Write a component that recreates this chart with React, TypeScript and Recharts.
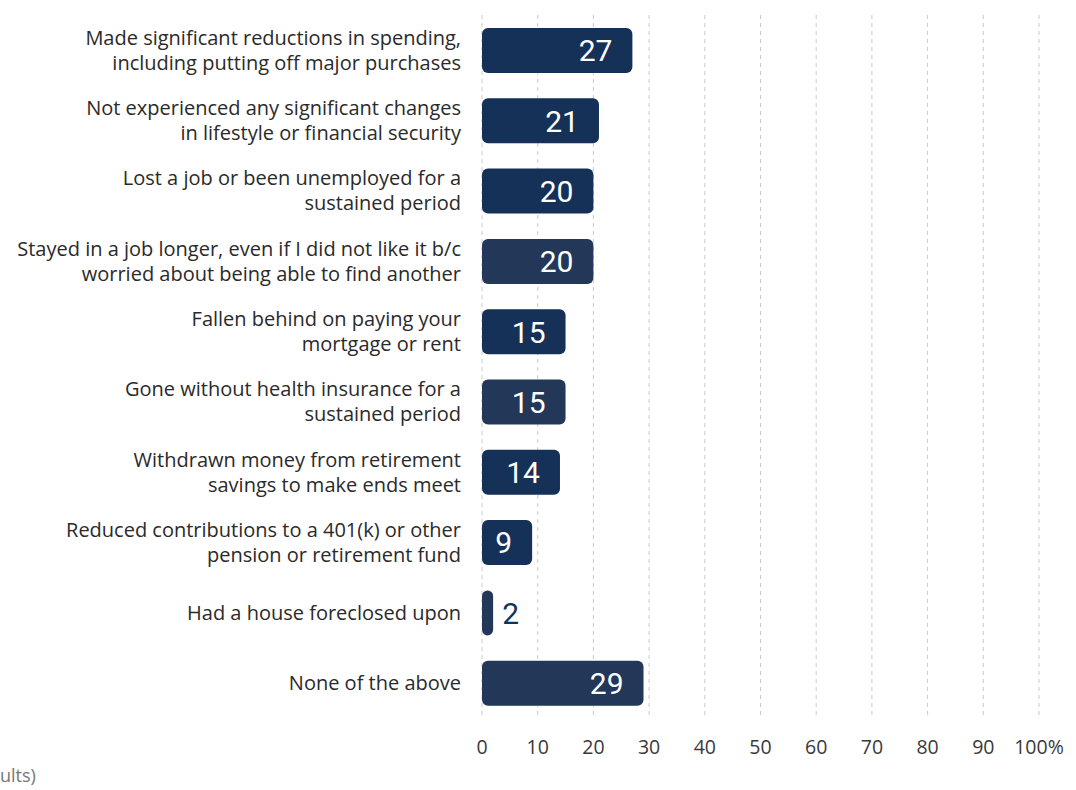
import React from "react";
import { BarChart, Bar, XAxis, YAxis, CartesianGrid, Cell, LabelList } from "recharts";

const categories: string[] = [
  "Made significant reductions in spending,\nincluding putting off major purchases",
  "Not experienced any significant changes\nin lifestyle or financial security",
  "Lost a job or been unemployed for a\nsustained period",
  "Stayed in a job longer, even if I did not like it b/c\nworried about being able to find another",
  "Fallen behind on paying your\nmortgage or rent",
  "Gone without health insurance for a\nsustained period",
  "Withdrawn money from retirement\nsavings to make ends meet",
  "Reduced contributions to a 401(k) or other\npension or retirement fund",
  "Had a house foreclosed upon",
  "None of the above",
];

const values: number[] = [27, 21, 20, 20, 15, 15, 14, 9, 2, 29];

const barColors: string[] = [
  "#153157", "#153157", "#153157", "#233759", "#153157",
  "#233759", "#153157", "#153157", "#233759", "#233759",
];

const xTicks: number[] = [0, 10, 20, 30, 40, 50, 60, 70, 80, 90, 100];

const data = categories.map((c, i) => ({ category: c, value: values[i] }));

const FONT = "'Open Sans', 'DejaVu Sans', sans-serif";
const NUMFONT = "Roboto, 'Open Sans', sans-serif";

const YTick = (props: any) => {
  const { x, y, payload } = props;
  const lines: string[] = String(payload.value).split("\n");
  const lh = 25;
  const start = -((lines.length - 1) * lh) / 2;
  return (
    <text x={x} y={y} textAnchor="end" fill="#2a2a2a" fontSize={20} fontFamily={FONT}>
      {lines.map((l, i) => (
        <tspan key={i} x={x} y={y + start + i * lh} dy="0.36em">
          {l}
        </tspan>
      ))}
    </text>
  );
};

const XTick = (props: any) => {
  const { x, y, payload } = props;
  const label = payload.value === 100 ? "100%" : String(payload.value);
  return (
    <text x={x} y={y + 23} textAnchor="middle" fill="#3a3a3a" fontSize={19.5} fontFamily={FONT} dy="0.36em">
      {label}
    </text>
  );
};

const ValueLabel = (props: any) => {
  const { x, y, width, height, value } = props;
  const cy = y + height / 2;
  if (value < 5) {
    return (
      <text x={x + width + 9} y={cy} dy="0.36em" textAnchor="start" fill="#153157" fontSize={30} fontFamily={NUMFONT}>
        {value}
      </text>
    );
  }
  return (
    <text x={x + width - 20} y={cy} dy="0.36em" textAnchor="end" fill="#ffffff" fontSize={30} fontFamily={NUMFONT}>
      {value}
    </text>
  );
};

export default function App() {
  return (
    <div style={{ position: "absolute", left: 0, top: 0, width: 1076, height: 790, background: "#fff" }}>
      <BarChart
        width={1076}
        height={790}
        data={data}
        layout="vertical"
        margin={{ top: 15, right: 37, bottom: 42, left: 0 }}
        barCategoryGap={25}
      >
        <CartesianGrid horizontal={false} vertical={true} stroke="#c9c9cf" strokeDasharray="4 4" />
        <XAxis
          type="number"
          domain={[0, 100]}
          ticks={xTicks}
          axisLine={false}
          tickLine={false}
          height={30}
          tick={<XTick />}
          tickMargin={0}
          interval={0}
        />
        <YAxis
          type="category"
          dataKey="category"
          width={482}
          axisLine={false}
          tickLine={false}
          tickMargin={15}
          tick={<YTick />}
          interval={0}
        />
        <Bar dataKey="value" barSize={45} radius={6} isAnimationActive={false}>
          {data.map((d, i) => (
            <Cell key={i} fill={barColors[i]} />
          ))}
          <LabelList dataKey="value" content={<ValueLabel />} />
        </Bar>
      </BarChart>
      <div
        style={{
          position: "absolute",
          left: 0,
          top: 763,
          fontFamily: FONT,
          fontSize: 18,
          color: "#777",
          whiteSpace: "nowrap",
        }}
      >
        ults)
      </div>
    </div>
  );
}
